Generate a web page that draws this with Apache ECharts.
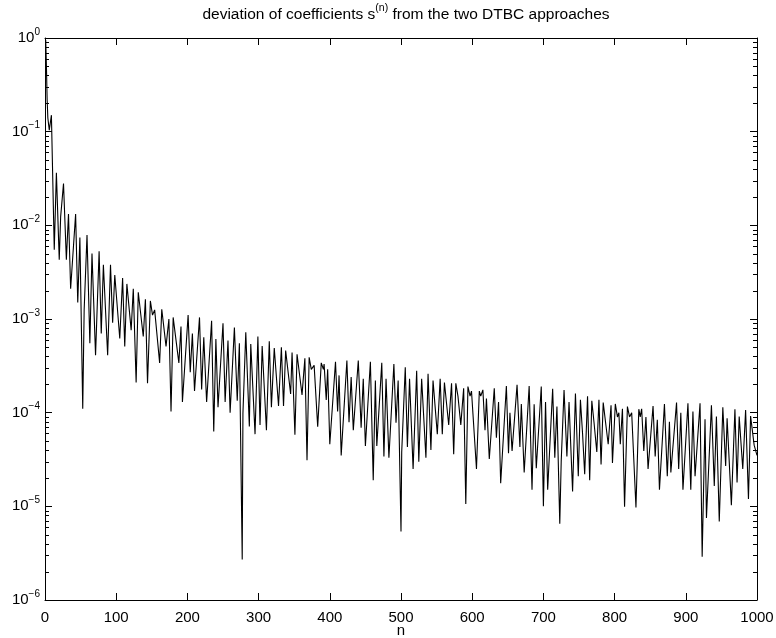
<!DOCTYPE html>
<html>
<head>
<meta charset="utf-8">
<style>html,body{margin:0;padding:0;background:#fff;}#chart{width:776px;height:638px;}</style>
<script src="https://cdn.jsdelivr.net/npm/echarts@6/dist/echarts.min.js"></script>
</head>
<body>
<div id="chart"></div>
<script>
const titleText = 'deviation of coefficients s';
const titleSup = '(n)';
const titleRest = ' from the two DTBC approaches';
const xName = 'n';
const xTicks = [0,100,200,300,400,500,600,700,800,900,1000];
const yDecades = [1e-6,1e-5,1e-4,1e-3,1e-2,1e-1,1];

const nValues = [1,2,3,4,6,9,13,16,20,22,26,30,33,36,43,46,49,53,55,59,63,66,71,76,79,82,88,92,95,98,
105,109,112,115,121,124,128,131,138,141,144,148,151,154,161,164,170,174,177,180,188,191,193,201,204,207,210,217,220,223,
227,234,237,240,243,250,253,257,260,266,270,273,277,278,282,287,289,295,299,302,305,311,315,318,322,328,332,335,338,345,
347,351,354,361,365,368,371,374,378,383,388,391,392,395,397,400,408,411,413,416,424,427,430,433,440,444,447,450,457,461,
464,466,473,476,479,483,490,493,496,500,501,506,509,512,517,522,525,529,535,538,542,545,551,555,558,561,567,571,574,577,
580,584,588,591,594,597,599,606,610,612,615,618,620,624,631,634,637,640,648,651,653,656,663,667,669,673,680,684,687,690,
697,700,703,706,713,716,719,723,725,729,733,736,741,745,749,752,755,758,762,765,768,771,775,778,781,784,791,795,797,801,
804,806,808,811,814,818,821,824,830,834,836,838,841,844,847,854,857,860,863,870,874,877,879,887,890,893,896,903,907,910,
913,920,923,927,929,936,940,943,947,948,952,956,958,964,969,972,975,980,984,988,991,996,1000];

const sValues = [0.95,0.5,0.22,0.14,0.104,0.15,5.5e-3,0.0365,4.3e-3,0.0124,0.028,4.3e-3,0.0132,2.1e-3,0.0132,1.5e-3,7.4e-3,1.1e-4,1.25e-3,7.9e-3,
5.5e-4,5.0e-3,4.1e-4,5.3e-3,7.0e-4,3.8e-3,4.1e-4,3.8e-3,9.1e-4,2.95e-3,
6.2e-4,2.74e-3,5.1e-4,2.37e-3,7.6e-4,2.1e-3,2.1e-4,1.93e-3,6.5e-4,1.62e-3,2.06e-4,1.56e-3,1.1e-3,1.25e-3,3.4e-4,1.27e-3,5.1e-4,1.0e-3,1.03e-4,1.04e-3,
3.4e-4,8.3e-4,1.3e-4,1.1e-3,2.7e-4,7.0e-4,1.7e-4,1.04e-3,1.77e-4,6.4e-4,
1.3e-4,9.6e-4,6.3e-5,6.1e-4,1.14e-4,9.0e-4,1.3e-4,5.9e-4,1.0e-4,8.1e-4,1.34e-4,5.5e-4,2.7e-6,9.8e-5,7.2e-4,7.1e-5,5.4e-4,5.9e-5,6.5e-4,7.4e-5,
5.15e-4,6.5e-5,5.8e-4,1.14e-4,4.9e-4,1.18e-4,5.0e-4,1.18e-4,4.6e-4,1.58e-4,
4.4e-4,5.8e-5,4.2e-4,1.55e-4,3.8e-4,3.1e-5,3.9e-4,2.9e-4,3.2e-4,7.1e-5,3.4e-4,2.9e-4,3.3e-4,1.37e-4,2.9e-4,4.6e-5,3.5e-4,1.03e-4,2.5e-4,3.5e-5,
3.6e-4,7.9e-5,2.4e-4,6.5e-5,3.6e-4,6.9e-5,2.3e-4,4.4e-5,3.5e-4,1.9e-5,
2.2e-4,4.4e-5,3.4e-4,3.4e-5,2.3e-4,3.3e-5,3.3e-4,7.8e-5,2.2e-4,5.4e-6,3.8e-5,3.05e-4,4.3e-5,2.3e-4,2.5e-5,2.8e-4,3.0e-5,2.3e-4,3.3e-5,2.6e-4,
4.0e-5,2.2e-4,5.9e-5,2.3e-4,5.9e-5,2.1e-4,7.4e-5,2.06e-4,3.6e-5,2.06e-4,
1.5e-4,7.4e-5,1.82e-4,1.06e-5,1.9e-4,1.5e-4,1.7e-4,2.5e-5,1.7e-4,1.5e-4,1.75e-4,6.5e-5,1.42e-4,3.2e-5,1.82e-4,5.4e-5,1.3e-4,1.76e-5,1.93e-4,3.7e-5,
1.0e-4,3.9e-5,1.98e-4,4.3e-5,1.24e-4,2.3e-5,1.93e-4,1.5e-5,1.23e-4,2.55e-5,
1.9e-4,1.0e-5,1.3e-4,1.5e-5,1.8e-4,3.3e-5,1.16e-4,6.5e-6,3.0e-5,1.75e-4,3.4e-5,1.3e-4,1.44e-5,1.6e-4,2.1e-5,1.37e-4,6.0e-5,2.2e-5,1.5e-4,1.9e-5,
1.34e-4,8.0e-5,3.8e-5,1.37e-4,2.8e-5,1.28e-4,4.6e-5,1.2e-4,2.9e-5,1.24e-4,
9.0e-5,1.0e-4,4.6e-5,1.1e-4,9.9e-6,1.16e-4,9.0e-5,1.0e-4,9.7e-6,1.09e-4,9.0e-5,1.1e-4,3.9e-5,9.0e-5,2.5e-5,1.18e-4,3.4e-5,8.4e-5,1.5e-5,1.24e-4,
2.1e-5,8.0e-5,2.3e-5,1.28e-4,2.5e-5,1.0e-4,1.5e-5,1.26e-4,1.5e-5,1.03e-4,
2.1e-5,1.26e-4,2.9e-6,8.5e-5,7.5e-6,1.2e-4,1.65e-5,9.1e-5,6.9e-6,1.2e-5,1.14e-4,2.7e-5,8.7e-5,1.03e-5,1.09e-4,1.8e-5,9.1e-5,2.5e-5,1.07e-4,1.2e-5,
9.2e-5,4.5e-5,3.5e-5];

const lineData = nValues.map((n, i) => [n, sValues[i]]);

// minor tick positions of the log axis (2..9 per decade)
const minorTickValues = [];
for (let d = -6; d < 0; d++) {
  for (let k = 2; k <= 9; k++) minorTickValues.push(k * Math.pow(10, d));
}

const FONT = '"Liberation Sans", Arial, sans-serif';
const chart = echarts.init(document.getElementById('chart'), null, {renderer: 'canvas'});

function yLabel(v) {
  const e = Math.round(Math.log10(v));
  return '{b|10}{s|' + (e < 0 ? '\u2212' + (-e) : e) + '}';
}
const yRich = {
  b: {fontSize: 15, fontFamily: FONT, color: '#000'},
  s: {fontSize: 10, fontFamily: FONT, color: '#000', padding: [0, 0, 12, 0]}
};

chart.setOption({
  backgroundColor: '#fff',
  animation: false,
  title: [{
    text: '{a|' + titleText + '}{s|' + titleSup + '}{a|' + titleRest + '}',
    left: 401,
    top: -2,
    textAlign: 'center',
    textStyle: {
      fontWeight: 'normal',
      rich: {
        a: {fontSize: 15.5, fontFamily: FONT, color: '#000', fontWeight: 'normal'},
        s: {fontSize: 10.5, fontFamily: FONT, color: '#000', fontWeight: 'normal', padding: [0, 0, 12, 0]}
      }
    }
  }, {
    text: xName,
    left: 401,
    top: 623,
    padding: 0,
    textAlign: 'center',
    textStyle: {fontSize: 15, fontFamily: FONT, color: '#000', fontWeight: 'normal'}
  }],
  grid: {left: 45, right: 19, top: 38, bottom: 38, containLabel: false, outerBoundsMode: 'none'},
  xAxis: [{
    type: 'value', min: 0, max: 1000, interval: 100,
    axisLine: {show: true, lineStyle: {color: '#000', width: 1}},
    axisTick: {show: true, inside: true, length: 7, lineStyle: {color: '#000'}},
    axisLabel: {fontSize: 15, fontFamily: FONT, color: '#000', margin: 10,
      formatter: v => String(v)},
    splitLine: {show: false}
  }, {
    type: 'value', min: 0, max: 1000, interval: 100, position: 'top',
    axisLine: {show: true, onZero: false, lineStyle: {color: '#000', width: 1}},
    axisTick: {show: true, inside: true, length: 7, lineStyle: {color: '#000'}},
    axisLabel: {show: false}, splitLine: {show: false}
  }],
  yAxis: [{
    type: 'log', logBase: 10, min: 1e-6, max: 1,
    axisLine: {show: true, onZero: false, lineStyle: {color: '#000', width: 1}},
    axisTick: {show: true, inside: true, length: 7, lineStyle: {color: '#000'}},
    axisLabel: {margin: 5, formatter: yLabel, rich: yRich},
    splitLine: {show: false}
  }, {
    type: 'log', logBase: 10, min: 1e-6, max: 1, position: 'right',
    axisLine: {show: true, onZero: false, lineStyle: {color: '#000', width: 1}},
    axisTick: {show: true, inside: true, length: 7, lineStyle: {color: '#000'}},
    axisLabel: {show: false}, splitLine: {show: false}
  }],
  series: [{
    type: 'line',
    data: lineData,
    xAxisIndex: 0, yAxisIndex: 0,
    showSymbol: false,
    symbol: 'none',
    lineStyle: {color: '#000', width: 1.1},
    clip: true
  }, {
    type: 'custom',
    xAxisIndex: 0, yAxisIndex: 0,
    silent: true,
    encode: {x: 0, y: 1},
    data: minorTickValues.map(v => [0, v]),
    renderItem: function (params, api) {
      const v = api.value(1);
      const pl = api.coord([0, v]);
      const pr = api.coord([1000, v]);
      const y = Math.round(pl[1]) + 0.5;
      return {
        type: 'group',
        children: [
          {type: 'line', shape: {x1: pl[0], y1: y, x2: pl[0] + 4, y2: y}, style: {stroke: '#000', lineWidth: 1}},
          {type: 'line', shape: {x1: pr[0], y1: y, x2: pr[0] - 4, y2: y}, style: {stroke: '#000', lineWidth: 1}}
        ]
      };
    },
    z: 5
  }]
});
</script>
</body>
</html>
